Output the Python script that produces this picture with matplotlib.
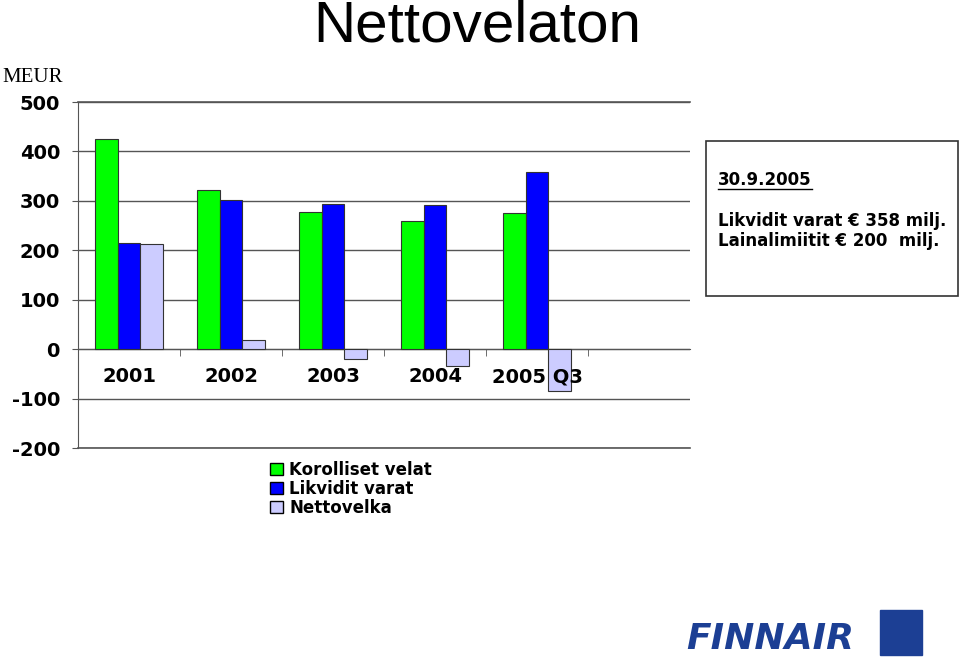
import matplotlib
matplotlib.use("Agg")
import matplotlib.pyplot as plt
from matplotlib.patches import Rectangle, Patch
from matplotlib.lines import Line2D
import numpy as np

years = ["2001", "2002", "2003", "2004", "2005 Q3"]
korolliset = [425, 322, 277, 259, 275]
likvidit = [214, 302, 294, 292, 358]
nettovelka = [212, 18, -19, -35, -84]

W, H = 960, 658


def fx(px):
    return px / W


def fy(py):
    return 1 - py / H


fig = plt.figure(figsize=(9.6, 6.58), dpi=100)
ax = fig.add_axes([fx(78), fy(448), fx(690) - fx(78), fy(102) - fy(448)])

x = np.arange(len(years))
w = 0.225
edge = "#333333"
ax.bar(x - w, korolliset, w, color="#00ff00", edgecolor=edge, lw=0.8, zorder=3)
ax.bar(x, likvidit, w, color="#0000ff", edgecolor=edge, lw=0.8, zorder=3)
ax.bar(x + w, nettovelka, w, color="#ccccff", edgecolor=edge, lw=0.8, zorder=3)

ax.set_xlim(-0.5, 5.5)
ax.set_ylim(-200, 500)
ax.set_yticks(range(-200, 501, 100))
ax.set_yticklabels([str(v) for v in range(-200, 501, 100)],
                   fontsize=14, fontweight="bold", family="DejaVu Sans")
ax.tick_params(axis="y", length=4.5, color="#555555", pad=8.5)
ax.yaxis.grid(True, color="#555555", lw=1.0, zorder=0)

for s in ["top", "right"]:
    ax.spines[s].set_visible(False)
ax.spines["left"].set_color("#555555")
ax.spines["bottom"].set_position(("data", 0))
ax.spines["bottom"].set_color("#555555")

ax.set_xticks(x)
ax.set_xticklabels(years, fontsize=14, fontweight="bold", family="DejaVu Sans")
ax.tick_params(axis="x", which="major", length=0, pad=13)
ax.set_xticks(np.arange(0.5, 5.0, 1.0), minor=True)
ax.tick_params(axis="x", which="minor", length=5, color="#555555", direction="out")
# year labels sit on top of the bars, like in the original
ax.xaxis.set_zorder(5)
# frame lines at -200 and 500
ax.axhline(-200, color="#555555", lw=1.2, zorder=0, clip_on=False)
ax.axhline(500, color="#555555", lw=1.2, zorder=0, clip_on=False)

fig.text(fx(477), fy(0), "Nettovelaton", fontsize=42, family="Liberation Sans",
         ha="center", va="top")
fig.text(fx(2), fy(78), "MEUR", fontsize=15, family="Liberation Serif",
         ha="left", va="center")

# info box
fig.add_artist(Rectangle((fx(706), fy(296)), fx(958) - fx(706), fy(141) - fy(296),
                         transform=fig.transFigure, fill=False, ec="#333333", lw=1.2))
fig.text(fx(718), fy(180), "30.9.2005", fontsize=12, fontweight="bold",
         family="DejaVu Sans", va="center")
fig.add_artist(Line2D([fx(718), fx(812)], [fy(189), fy(189)],
                      transform=fig.transFigure, color="black", lw=1))
fig.text(fx(718), fy(221), "Likvidit varat € 358 milj.", fontsize=12,
         fontweight="bold", family="DejaVu Sans", va="center")
fig.text(fx(718), fy(241), "Lainalimiitit € 200  milj.", fontsize=12,
         fontweight="bold", family="DejaVu Sans", va="center")

# legend
handles = [Patch(fc="#00ff00", ec="black"), Patch(fc="#0000ff", ec="black"),
           Patch(fc="#ccccff", ec="black")]
labels = ["Korolliset velat", "Likvidit varat", "Nettovelka"]
fig.legend(handles, labels, loc="upper left", bbox_to_anchor=(fx(255), fy(446)),
           frameon=False, handlelength=0.75, handleheight=0.75, handletextpad=0.4,
           labelspacing=0.05, prop={"size": 12, "weight": "bold", "family": "DejaVu Sans"})

# logo
fig.text(fx(686), fy(639), "FINNAIR", fontsize=26, fontweight="bold",
         fontstyle="italic", family="DejaVu Sans", color="#1c3f94", va="center")
fig.add_artist(Rectangle((fx(880), fy(655)), fx(922) - fx(880), fy(610) - fy(655),
                         transform=fig.transFigure, color="#1c3f94"))

fig.savefig("out.png", dpi=100)
